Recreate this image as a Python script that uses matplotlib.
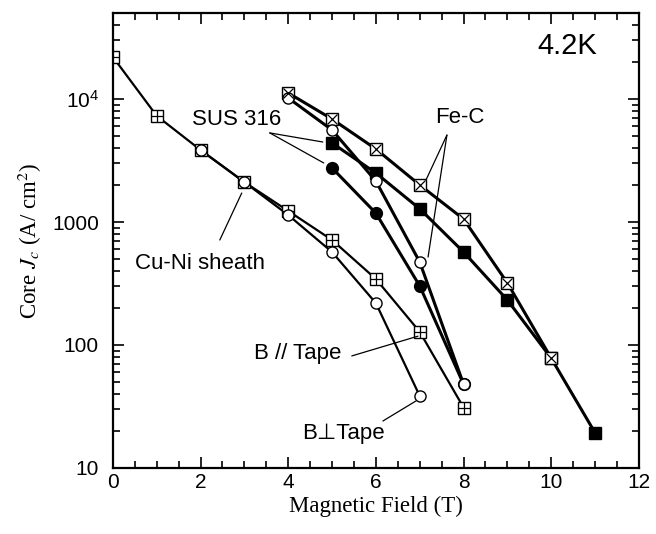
import matplotlib
matplotlib.use("Agg")
import matplotlib.pyplot as plt
from matplotlib.ticker import FixedLocator, FixedFormatter, MultipleLocator, LogLocator, NullFormatter

plt.rcParams['font.family'] = ['Liberation Sans', 'DejaVu Sans']
plt.rcParams['mathtext.fontset'] = 'stix'

# Cu-Ni sheath
cuni_par_x = [0, 1, 2, 3, 4, 5, 6, 7, 8]
cuni_par_y = [22000, 7300, 3850, 2110, 1230, 714, 344, 128, 31]
cuni_perp_x = [2, 3, 4, 5, 6, 7]
cuni_perp_y = [3850, 2110, 1140, 570, 219, 38.5]

# open circles / filled circles
circ_open_x = [4, 5, 6, 7, 8]
circ_open_y = [10200, 5600, 2150, 473, 48]
circ_fill_x = [5, 6, 7, 8]
circ_fill_y = [2750, 1180, 302, 48]

# crossed squares / filled squares
sq_cross_x = [4, 5, 6, 7, 8, 9, 10]
sq_cross_y = [11200, 6870, 3920, 2000, 1057, 319, 78]
sq_fill_x = [5, 6, 7, 8, 9, 10, 11]
sq_fill_y = [4390, 2500, 1280, 570, 232, 78, 19.3]

fig = plt.figure(figsize=(6.56, 5.34), dpi=100)
ax = fig.add_axes([0.172, 0.1236, 0.802, 0.852])
ax.set_yscale('log')

ms = 8.5
thin = 1.6
thick = 2.2

# Cu-Ni B // Tape (square with plus)
ax.plot(cuni_par_x, cuni_par_y, '-', color='k', lw=thin, zorder=2)
ax.plot(cuni_par_x, cuni_par_y, 's', ms=ms, mfc='white', mec='k', mew=1.0, zorder=3)
ax.plot(cuni_par_x, cuni_par_y, '+', ms=ms, mec='k', mew=0.9, zorder=4)
# Cu-Ni B perp Tape (open circle)
ax.plot(cuni_perp_x, cuni_perp_y, '-', color='k', lw=thin, zorder=2)
ax.plot(cuni_perp_x, cuni_perp_y, 'o', ms=ms - 0.5, mfc='white', mec='k', mew=1.0, zorder=5)

# filled squares
ax.plot(sq_fill_x, sq_fill_y, '-s', color='k', lw=thick, ms=ms, mfc='k', mec='k', zorder=3)
# filled circles
ax.plot(circ_fill_x, circ_fill_y, '-o', color='k', lw=thick, ms=ms, mfc='k', mec='k', zorder=3)
# crossed squares
ax.plot(sq_cross_x, sq_cross_y, '-', color='k', lw=thick, zorder=3)
ax.plot(sq_cross_x, sq_cross_y, 's', ms=ms, mfc='white', mec='k', mew=1.0, zorder=6)
ax.plot(sq_cross_x, sq_cross_y, 'x', ms=ms * 0.8, mec='k', mew=0.9, zorder=7)
# open circles
ax.plot(circ_open_x, circ_open_y, '-', color='k', lw=thick, zorder=3)
ax.plot(circ_open_x, circ_open_y, 'o', ms=ms - 0.5, mfc='white', mec='k', mew=1.0, zorder=6)

ax.set_xlim(0, 12)
ax.set_ylim(10, 5e4)

ax.xaxis.set_major_locator(MultipleLocator(2))
ax.xaxis.set_minor_locator(MultipleLocator(0.5))
ax.yaxis.set_major_locator(FixedLocator([10, 100, 1000, 10000]))
ax.yaxis.set_major_formatter(FixedFormatter(['10', '100', '1000', r'$\mathregular{10^4}$']))
ax.yaxis.set_minor_locator(LogLocator(base=10, subs=range(2, 10)))
ax.yaxis.set_minor_formatter(NullFormatter())
ax.tick_params(which='both', direction='in', top=True, right=True, labelsize=15, width=1.2)
ax.tick_params(which='major', length=8)
ax.tick_params(which='minor', length=5)
ax.tick_params(axis='y', pad=10)
for s in ax.spines.values():
    s.set_linewidth(1.6)

ax.set_xlabel('Magnetic Field (T)', family='Liberation Serif', fontsize=16.5, labelpad=3)
ax.set_ylabel(r'Core $J_c$ (A/ cm$^2$)', family='Liberation Serif', fontsize=16.5, labelpad=6)

txt = dict(fontsize=16, ha='center', va='center')
line = dict(arrowstyle='-', color='k', lw=0.9, shrinkA=0, shrinkB=0)

ax.text(0.863, 0.927, '4.2K', transform=ax.transAxes, fontsize=21, ha='center', va='center')

ax.text(2.83, 6750, 'SUS 316', **txt)
ax.annotate('', xy=(4.79, 4470), xytext=(3.58, 5300), arrowprops=line)
ax.annotate('', xy=(4.81, 3020), xytext=(3.58, 5300), arrowprops=line)

ax.text(7.92, 7010, 'Fe-C', **txt)
ax.annotate('', xy=(7.12, 2110), xytext=(7.62, 5090), arrowprops=line)
ax.annotate('', xy=(7.19, 519), xytext=(7.62, 5090), arrowprops=line)

ax.text(1.98, 464, 'Cu-Ni sheath', **txt)
ax.annotate('', xy=(2.94, 1720), xytext=(2.44, 714), arrowprops=line)

ax.text(4.22, 86, 'B // Tape', **txt)
ax.annotate('', xy=(6.96, 118), xytext=(5.45, 81.5), arrowprops=line)

ax.text(5.27, 18.9, 'B\u22a5Tape', **txt)
ax.annotate('', xy=(6.91, 35), xytext=(6.16, 24.1), arrowprops=line)

fig.savefig('out.png', dpi=100)
